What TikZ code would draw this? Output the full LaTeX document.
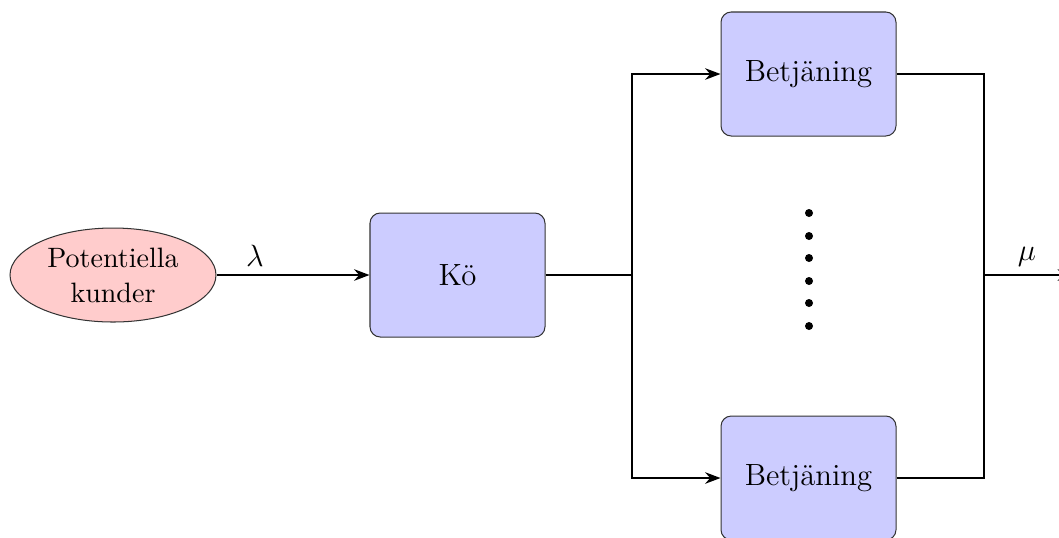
\documentclass[tikz,border=0pt]{standalone}
\usetikzlibrary{shapes.geometric,arrows.meta}
\begin{document}
\begin{tikzpicture}[x=0.3906pt,y=-0.3906pt,
  boxnode/.style={draw=black!80,fill=blue!20,rounded corners=4pt,minimum width=175*0.3906pt,minimum height=124*0.3906pt,inner sep=0pt,font=\fontsize{12}{14.5}\selectfont},
  srcnode/.style={ellipse,draw=black!80,fill=red!20,minimum width=206*0.3906pt,minimum height=94*0.3906pt,inner sep=0pt,align=center,font=\fontsize{10.95}{13.6}\selectfont},
  flow/.style={thick},
  arr/.style={thick,-{Stealth[length=6pt,width=4.5pt]}},
  lbl/.style={font=\fontsize{12}{14.5}\selectfont},
  dotnode/.style={circle,fill=black,inner sep=0pt,minimum size=8*0.3906pt}]
\useasboundingbox (0,0) rectangle (1059,537);
\node[srcnode] (src) at (113,275) {Potentiella\\kunder};
\node[boxnode] (queue) at (457.5,275) {Kö};
\node[boxnode] (top) at (808.5,74) {Betjäning};
\node[boxnode] (bot) at (808.5,478) {Betjäning};
\coordinate (split) at (632,275);
\coordinate (join) at (984,275);
\coordinate (out) at (1073,275);
\draw[arr] (src.east) -- (queue.west);
\node[lbl] (lam) at (255,256) {$\lambda$};
\draw[flow] (queue.east) -- (split);
\draw[arr] (split) |- (top.west);
\draw[arr] (split) |- (bot.west);
\draw[flow] (top.east) -| (join);
\draw[flow] (bot.east) -| (join);
\draw[arr] (join) -- (out);
\node[lbl] (mu) at (1027,257) {$\mu$};
\node[dotnode] (d1) at (809,213) {};
\node[dotnode] (d2) at (809,236) {};
\node[dotnode] (d3) at (809,258) {};
\node[dotnode] (d4) at (809,281) {};
\node[dotnode] (d5) at (809,303) {};
\node[dotnode] (d6) at (809,326) {};
\end{tikzpicture}
\end{document}
